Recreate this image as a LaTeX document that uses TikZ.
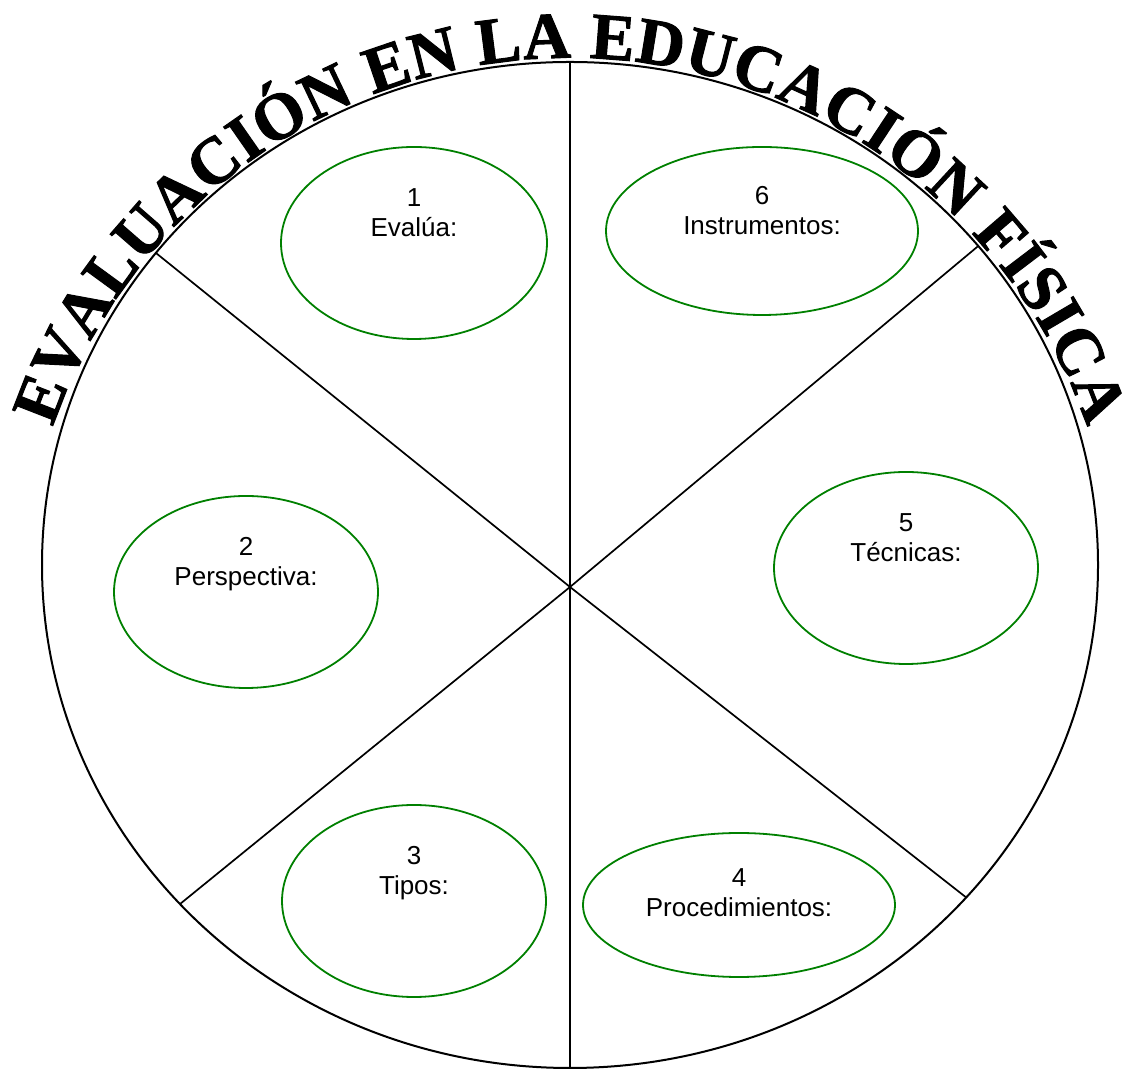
\documentclass[tikz,border=0pt]{standalone}
\usepackage{fontspec}
\setmainfont{Liberation Sans}
\newfontfamily\titlefont{Liberation Serif}[BoldFeatures={FakeBold=1.5}]
\usepackage{tikz}
\usetikzlibrary{shapes.geometric, decorations.text, positioning}
\tikzset{
  rim/.style={
    draw,
    ellipse,
    line width=2pt,
    inner sep=0pt,
    outer sep=0pt,
    minimum width=1056pt,
    minimum height=1006pt
  },
  slot/.style={
    draw=green!50!black,
    ellipse,
    line width=1.8pt,
    inner sep=0pt
  },
  slottext/.style={
    align=center,
    inner sep=0pt,
    font=\fontsize{26pt}{30pt}\selectfont
  },
  spoke/.style={
    line width=1.7pt
  }
}

\begin{document}
\begin{tikzpicture}[x=1pt, y=1pt]
\useasboundingbox (0,0) rectangle (1135,1070);

\node[rim] (rim) at (570,505) {};
\coordinate (hub) at (570,483);

% radios
\draw[spoke] (rim.90) -- (rim.270);
\foreach \a in {143, 38, 221, 320}
  \draw[spoke] (hub) -- (rim.\a);

% titulo
\path[decorate, decoration={text along path, text align=fit to path,
  text={|\titlefont\bfseries\fontsize{66pt}{70pt}\selectfont|EVALUACIÓN EN LA EDUCACIÓN FÍSICA}}]
  (570,465) ++(161:547pt) arc[start angle=161, end angle=19, radius=547pt];

% elipses
\node[slot, minimum width=266pt, minimum height=192pt] (e1) at (414,827) {};
\node[slot, minimum width=264pt, minimum height=192pt] (e2) at (246,478) {};
\node[slot, minimum width=264pt, minimum height=192pt] (e3) at (414,169) {};
\node[slot, minimum width=312pt, minimum height=144pt] (e4) at (739,165) {};
\node[slot, minimum width=264pt, minimum height=192pt] (e5) at (906,502) {};
\node[slot, minimum width=312pt, minimum height=168pt] (e6) at (762,839) {};

\node[slottext, below=42pt of e1.north] (t1) {1\\Evalúa:};
\node[slottext, below=42pt of e2.north] (t2) {2\\Perspectiva:};
\node[slottext, below=42pt of e3.north] (t3) {3\\Tipos:};
\node[slottext, below=36pt of e4.north] (t4) {4\\Procedimientos:};
\node[slottext, below=42pt of e5.north] (t5) {5\\Técnicas:};
\node[slottext, below=40pt of e6.north] (t6) {6\\Instrumentos:};
\end{tikzpicture}
\end{document}
